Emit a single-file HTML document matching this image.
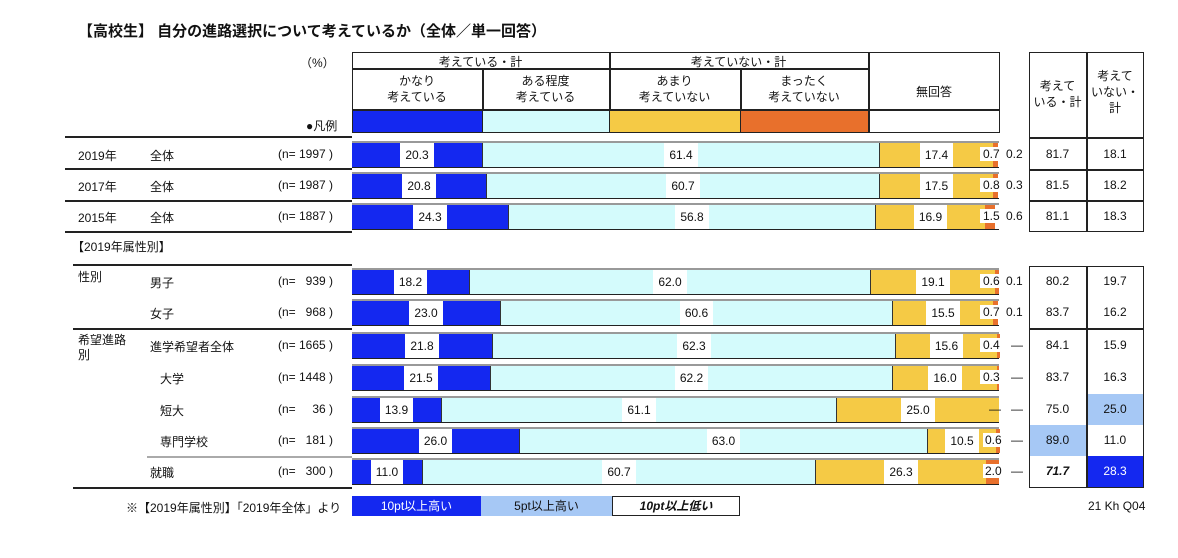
<!DOCTYPE html>
<html><head><meta charset="utf-8"><style>
body{margin:0;width:1178px;height:558px;background:#fff;position:relative;overflow:hidden;font-family:"Liberation Sans","Noto Sans CJK JP",sans-serif;font-size:12px;color:#111}
.a{position:absolute;white-space:nowrap}
.bar{position:absolute;left:352px;width:647px;height:24px;display:flex;border-bottom:1.5px solid #222;border-top:2px solid #999;box-sizing:content-box}
.bar div{height:24px;display:flex;align-items:center;justify-content:center;flex:none;box-sizing:border-box}
.bar span{background:#fff;padding:4px 5px;line-height:16px}
.B{background:#1428f0}.C{background:#d4fbfc}.Y{background:#f5ca45}.O{background:#e8702c}
.B,.C{border-right:1px solid #333}
.hl{position:absolute;height:1.5px;background:#222}
.vl{position:absolute;width:1.5px;background:#222}
.c{text-align:center}
</style></head><body>
<div class="a" style="left:78px;top:20px;font-size:15px;font-weight:bold">【高校生】 自分の進路選択について考えているか（全体／単一回答）</div>
<div class="a" style="left:300px;top:54px">（%）</div>
<div class="a" style="left:306px;top:117px">●凡例</div>

<!-- header box -->
<div class="a" style="left:352px;top:52px;width:648px;height:81px;border:1.5px solid #222;box-sizing:border-box"></div>
<div class="hl" style="left:352px;top:68px;width:516px"></div>
<div class="hl" style="left:352px;top:109px;width:648px"></div>
<div class="vl" style="left:609px;top:52px;height:81px"></div>
<div class="vl" style="left:868px;top:52px;height:81px"></div>
<div class="vl" style="left:482px;top:68px;height:65px"></div>
<div class="vl" style="left:740px;top:68px;height:65px"></div>
<div class="a c" style="left:352px;top:53px;width:257px">考えている・計</div>
<div class="a c" style="left:609px;top:53px;width:259px">考えていない・計</div>
<div class="a c" style="left:352px;top:73px;width:130px;line-height:16px">かなり<br>考えている</div>
<div class="a c" style="left:482px;top:73px;width:127px;line-height:16px">ある程度<br>考えている</div>
<div class="a c" style="left:609px;top:73px;width:131px;line-height:16px">あまり<br>考えていない</div>
<div class="a c" style="left:740px;top:73px;width:128px;line-height:16px">まったく<br>考えていない</div>
<div class="a c" style="left:868px;top:83px;width:132px">無回答</div>
<div class="a B" style="left:353px;top:111px;width:129px;height:21px;border:none"></div>
<div class="a C" style="left:483px;top:111px;width:126px;height:21px;border:none"></div>
<div class="a Y" style="left:610px;top:111px;width:130px;height:21px"></div>
<div class="a O" style="left:741px;top:111px;width:127px;height:21px"></div>

<!-- right table top -->
<div class="a" style="left:1029px;top:52px;width:115px;height:180px;border:1.5px solid #222;box-sizing:border-box"></div>
<div class="vl" style="left:1086px;top:52px;height:180px"></div>
<div class="hl" style="left:1029px;top:137px;width:115px"></div>
<div class="hl" style="left:1029px;top:169px;width:115px"></div>
<div class="hl" style="left:1029px;top:200px;width:115px"></div>
<div class="a c" style="left:1029px;top:78px;width:57px;line-height:16px">考えて<br>いる・計</div>
<div class="a c" style="left:1086px;top:68px;width:58px;line-height:16px">考えて<br>いない・<br>計</div>

<!-- right table bottom -->
<div class="a" style="left:1086px;top:394px;width:58px;height:31px;background:#a6c8f5"></div>
<div class="a" style="left:1029px;top:425px;width:57px;height:31px;background:#a6c8f5"></div>
<div class="a" style="left:1086px;top:456px;width:58px;height:32px;background:#1428f0"></div>
<div class="a" style="left:1029px;top:266px;width:115px;height:222px;border:1.5px solid #222;box-sizing:border-box"></div>
<div class="vl" style="left:1086px;top:266px;height:222px"></div>
<div class="hl" style="left:1029px;top:328px;width:115px"></div>

<!-- left separators -->
<div class="hl" style="left:65px;top:136px;width:287px;height:2px"></div>
<div class="hl" style="left:65px;top:168px;width:287px"></div>
<div class="hl" style="left:65px;top:200px;width:287px"></div>
<div class="hl" style="left:65px;top:231px;width:287px;height:2px"></div>
<div class="hl" style="left:73px;top:264px;width:279px;height:2px"></div>
<div class="hl" style="left:73px;top:328px;width:279px;height:2px"></div>
<div class="hl" style="left:147px;top:456px;width:205px;height:2px;background:#aaa"></div>
<div class="hl" style="left:73px;top:487px;width:279px;height:2px"></div>

<!-- left labels -->
<div class="a" style="left:78px;top:147px">2019年</div><div class="a" style="left:150px;top:147px">全体</div><div class="a" style="left:278px;top:147px">(n= 1997 )</div>
<div class="a" style="left:78px;top:178px">2017年</div><div class="a" style="left:150px;top:178px">全体</div><div class="a" style="left:278px;top:178px">(n= 1987 )</div>
<div class="a" style="left:78px;top:209px">2015年</div><div class="a" style="left:150px;top:209px">全体</div><div class="a" style="left:278px;top:209px">(n= 1887 )</div>
<div class="a" style="left:72px;top:238px">【2019年属性別】</div>
<div class="a" style="left:78px;top:268px">性別</div>
<div class="a" style="left:150px;top:274px">男子</div><div class="a" style="left:278px;top:274px">(n=&nbsp;&nbsp;&nbsp;939 )</div>
<div class="a" style="left:150px;top:305px">女子</div><div class="a" style="left:278px;top:305px">(n=&nbsp;&nbsp;&nbsp;968 )</div>
<div class="a" style="left:78px;top:333px;line-height:15px">希望進路<br>別</div>
<div class="a" style="left:150px;top:338px">進学希望者全体</div><div class="a" style="left:278px;top:338px">(n= 1665 )</div>
<div class="a" style="left:160px;top:370px">大学</div><div class="a" style="left:278px;top:370px">(n= 1448 )</div>
<div class="a" style="left:160px;top:402px">短大</div><div class="a" style="left:278px;top:402px">(n=&nbsp;&nbsp;&nbsp;&nbsp;&nbsp;36 )</div>
<div class="a" style="left:160px;top:433px">専門学校</div><div class="a" style="left:278px;top:433px">(n=&nbsp;&nbsp;&nbsp;181 )</div>
<div class="a" style="left:150px;top:464px">就職</div><div class="a" style="left:278px;top:464px">(n=&nbsp;&nbsp;&nbsp;300 )</div>

<!-- bars -->
<div class="bar" style="top:141px"><div class="B" style="width:131px"><span>20.3</span></div><div class="C" style="width:397px"><span>61.4</span></div><div class="Y" style="width:113px"><span>17.4</span></div><div class="O" style="width:5px"></div></div>
<div class="bar" style="top:172px"><div class="B" style="width:135px"><span>20.8</span></div><div class="C" style="width:393px"><span>60.7</span></div><div class="Y" style="width:113px"><span>17.5</span></div><div class="O" style="width:5px"></div></div>
<div class="bar" style="top:203px"><div class="B" style="width:157px"><span>24.3</span></div><div class="C" style="width:367px"><span>56.8</span></div><div class="Y" style="width:109px"><span>16.9</span></div><div class="O" style="width:10px"></div></div>
<div class="bar" style="top:268px"><div class="B" style="width:118px"><span>18.2</span></div><div class="C" style="width:401px"><span>62.0</span></div><div class="Y" style="width:124px"><span>19.1</span></div><div class="O" style="width:4px"></div></div>
<div class="bar" style="top:299px"><div class="B" style="width:149px"><span>23.0</span></div><div class="C" style="width:392px"><span>60.6</span></div><div class="Y" style="width:100px"><span>15.5</span></div><div class="O" style="width:5px"></div></div>
<div class="bar" style="top:332px"><div class="B" style="width:141px"><span>21.8</span></div><div class="C" style="width:403px"><span>62.3</span></div><div class="Y" style="width:101px"><span>15.6</span></div><div class="O" style="width:3px"></div></div>
<div class="bar" style="top:364px"><div class="B" style="width:139px"><span>21.5</span></div><div class="C" style="width:402px"><span>62.2</span></div><div class="Y" style="width:104px"><span>16.0</span></div><div class="O" style="width:2px"></div></div>
<div class="bar" style="top:396px"><div class="B" style="width:90px"><span>13.9</span></div><div class="C" style="width:395px"><span>61.1</span></div><div class="Y" style="width:162px"><span>25.0</span></div></div>
<div class="bar" style="top:427px"><div class="B" style="width:168px"><span>26.0</span></div><div class="C" style="width:408px"><span>63.0</span></div><div class="Y" style="width:68px"><span>10.5</span></div><div class="O" style="width:4px"></div></div>
<div class="bar" style="top:458px"><div class="B" style="width:71px"><span>11.0</span></div><div class="C" style="width:393px"><span>60.7</span></div><div class="Y" style="width:170px"><span>26.3</span></div><div class="O" style="width:13px"></div></div>

<!-- small labels -->
<div class="a" style="left:980px;top:147px;background:#fff;padding-left:3px">0.7</div><div class="a" style="left:1006px;top:147px">0.2</div>
<div class="a" style="left:980px;top:178px;background:#fff;padding-left:3px">0.8</div><div class="a" style="left:1006px;top:178px">0.3</div>
<div class="a" style="left:980px;top:209px;background:#fff;padding-left:3px">1.5</div><div class="a" style="left:1006px;top:209px">0.6</div>
<div class="a" style="left:980px;top:274px;background:#fff;padding-left:3px">0.6</div><div class="a" style="left:1006px;top:274px">0.1</div>
<div class="a" style="left:980px;top:305px;background:#fff;padding-left:3px">0.7</div><div class="a" style="left:1006px;top:305px">0.1</div>
<div class="a" style="left:980px;top:338px;background:#fff;padding-left:3px">0.4</div><div class="a" style="left:1011px;top:338px">—</div>
<div class="a" style="left:980px;top:370px;background:#fff;padding-left:3px">0.3</div><div class="a" style="left:1011px;top:370px">—</div>
<div class="a" style="left:989px;top:402px">—</div><div class="a" style="left:1011px;top:402px">—</div>
<div class="a" style="left:983px;top:433px;background:#fff;padding-left:2px">0.6</div><div class="a" style="left:1011px;top:433px">—</div>
<div class="a" style="left:983px;top:464px;background:#fff;padding-left:2px">2.0</div><div class="a" style="left:1011px;top:464px">—</div>

<!-- right values -->
<div class="a c" style="left:1029px;top:147px;width:57px">81.7</div><div class="a c" style="left:1086px;top:147px;width:58px">18.1</div>
<div class="a c" style="left:1029px;top:178px;width:57px">81.5</div><div class="a c" style="left:1086px;top:178px;width:58px">18.2</div>
<div class="a c" style="left:1029px;top:209px;width:57px">81.1</div><div class="a c" style="left:1086px;top:209px;width:58px">18.3</div>
<div class="a c" style="left:1029px;top:274px;width:57px">80.2</div><div class="a c" style="left:1086px;top:274px;width:58px">19.7</div>
<div class="a c" style="left:1029px;top:305px;width:57px">83.7</div><div class="a c" style="left:1086px;top:305px;width:58px">16.2</div>
<div class="a c" style="left:1029px;top:338px;width:57px">84.1</div><div class="a c" style="left:1086px;top:338px;width:58px">15.9</div>
<div class="a c" style="left:1029px;top:370px;width:57px">83.7</div><div class="a c" style="left:1086px;top:370px;width:58px">16.3</div>
<div class="a c" style="left:1029px;top:402px;width:57px">75.0</div><div class="a c" style="left:1086px;top:402px;width:58px">25.0</div>
<div class="a c" style="left:1029px;top:433px;width:57px">89.0</div><div class="a c" style="left:1086px;top:433px;width:58px">11.0</div>
<div class="a c" style="left:1029px;top:464px;width:57px;font-weight:bold;font-style:italic">71.7</div><div class="a c" style="left:1086px;top:464px;width:58px;color:#fff">28.3</div>

<!-- footer -->
<div class="a" style="left:126px;top:499px">※【2019年属性別】「2019年全体」より</div>
<div class="a c" style="left:352px;top:496px;width:129px;height:20px;line-height:20px;background:#1428f0;color:#fff">10pt以上高い</div>
<div class="a c" style="left:481px;top:496px;width:131px;height:20px;line-height:20px;background:#a6c8f5">5pt以上高い</div>
<div class="a c" style="left:612px;top:496px;width:128px;height:20px;line-height:18px;border:1.5px solid #222;box-sizing:border-box;font-weight:bold;font-style:italic">10pt以上低い</div>
<div class="a" style="left:1088px;top:499px">21 Kh Q04</div>
</body></html>
